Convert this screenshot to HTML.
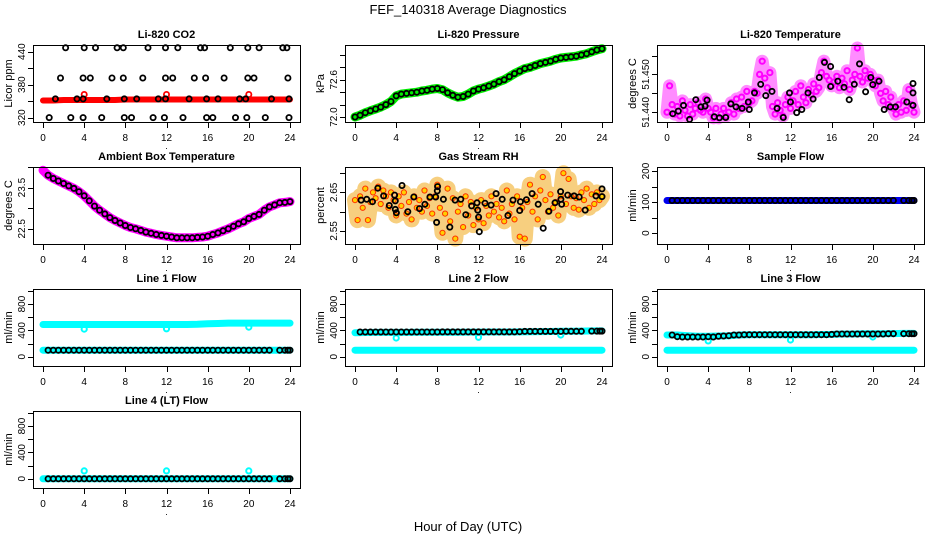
<!DOCTYPE html>
<html><head><meta charset="utf-8"><title>FEF_140318 Average Diagnostics</title>
<style>
html,body{margin:0;padding:0;background:#fff;}
svg{display:block;font-family:"Liberation Sans",Arial,sans-serif;}
</style></head>
<body>
<svg id="chart" width="936" height="540" viewBox="0 0 936 540" xmlns="http://www.w3.org/2000/svg">
<rect x="0" y="0" width="936" height="540" fill="#fff"/>
<text x="468" y="14" font-size="13" text-anchor="middle">FEF_140318  Average Diagnostics</text>
<text x="468" y="531" font-size="13" text-anchor="middle">Hour of Day (UTC)</text>
</svg>
<script>
// ---- shared x data ----
const xTicks = [0,4,8,12,16,20,24];
const hours25 = [0,1,2,3,4,5,6,7,8,9,10,11,12,13,14,15,16,17,18,19,20,21,22,23,24];
const halfHours = [0,0.5,1,1.5,2,2.5,3,3.5,4,4.5,5,5.5,6,6.5,7,7.5,8,8.5,9,9.5,10,10.5,11,11.5,12,12.5,13,13.5,14,14.5,15,15.5,16,16.5,17,17.5,18,18.5,19,19.5,20,20.5,21,21.5,22,22.5,23,23.5,24];
const blackHours = [0.5,1,1.5,2,2.5,3,3.5,4,4.5,5,5.5,6,6.5,7,7.5,8,8.5,9,9.5,10,10.5,11,11.5,12,12.5,13,13.5,14,14.5,15,15.5,16,16.5,17,17.5,18,18.5,19,19.5,20,20.5,21,21.5,22,23,23.5,23.8,24];
const quarterHours = [0,0.25,0.5,0.75,1,1.25,1.5,1.75,2,2.25,2.5,2.75,3,3.25,3.5,3.75,4,4.25,4.5,4.75,5,5.25,5.5,5.75,6,6.25,6.5,6.75,7,7.25,7.5,7.75,8,8.25,8.5,8.75,9,9.25,9.5,9.75,10,10.25,10.5,10.75,11,11.25,11.5,11.75,12,12.25,12.5,12.75,13,13.25,13.5,13.75,14,14.25,14.5,14.75,15,15.25,15.5,15.75,16,16.25,16.5,16.75,17,17.25,17.5,17.75,18,18.25,18.5,18.75,19,19.25,19.5,19.75,20,20.25,20.5,20.75,21,21.25,21.5,21.75,22,22.25,22.5,22.75,23,23.25,23.5,23.75,24];
const spikeHours = [4,12,20];

// ---- CO2 ----
const co2Red = [351,351,352,352,352,352,352,352,353,353,353,353,353,353,353,353,353,353,353,353,353,353,353,353,353];
const co2Spikes = [362,362,362];
const co2Hi_x = [2.2,4.0,5.1,7.2,7.8,10.2,11.9,13.1,15.3,15.7,18.2,19.9,21.0,23.3,23.7];
const co2Hi_y = [447,447,447,447,447,447,447,447,447,447,447,447,447,447,447];
const co2Mid_x = [1.7,3.9,4.6,6.7,7.8,9.7,11.9,12.6,14.7,15.8,17.6,19.9,20.5,23.8];
const co2Mid_y = [392,392,392,392,392,392,392,392,392,392,392,392,392,392];
const co2Base_x = [1.2,3.3,3.9,6.2,7.9,9.1,11.2,11.9,14.2,15.9,17.0,19.1,19.7,22.2,23.9];
const co2Base_y = [354,354,354,354,354,354,354,354,354,354,354,354,354,354,354];
const co2Low_x = [0.6,2.7,3.9,5.7,7.9,8.6,10.7,11.8,13.6,15.9,16.5,18.7,19.8,21.6,23.9];
const co2Low_y = [320,320,320,320,320,320,320,320,320,320,320,320,320,320,320];

// ---- Pressure ----
const pressure = [72.00,72.03,72.07,72.10,72.13,72.16,72.20,72.25,72.34,72.37,72.38,72.39,72.40,72.42,72.43,72.45,72.46,72.44,72.39,72.35,72.32,72.33,72.37,72.42,72.45,72.47,72.50,72.53,72.57,72.60,72.65,72.70,72.74,72.78,72.80,72.83,72.86,72.88,72.90,72.93,72.95,72.96,72.97,72.98,73.00,73.02,73.05,73.08,73.10];

// ---- Li-820 temperature ----
const tempCloud = [51.4400,51.4470,51.4420,51.4395,51.4415,51.4390,51.4430,51.4405,51.4390,
51.4420,51.4395,51.4410,51.4425,51.4405,51.4400,51.4435,51.4410,
51.4400,51.4385,51.4410,51.4385,51.4395,51.4410,51.4390,51.4400,
51.4425,51.4395,51.4435,51.4410,51.4440,51.4415,51.4455,51.4425,
51.4430,51.4455,51.4450,51.4500,51.4535,51.4490,51.4465,51.4505,
51.4415,51.4395,51.4425,51.4405,51.4390,51.4420,51.4440,51.4410,
51.4430,51.4455,51.4420,51.4470,51.4440,51.4425,51.4460,51.4445,
51.4475,51.4455,51.4465,51.4505,51.4535,51.4495,51.4485,51.4470,
51.4480,51.4495,51.4465,51.4490,51.4475,51.4510,51.4460,51.4485,
51.4500,51.4570,51.4495,51.4480,51.4510,51.4490,51.4500,51.4485,
51.4470,51.4485,51.4450,51.4430,51.4455,51.4420,51.4440,51.4410,
51.4395,51.4420,51.4400,51.4430,51.4405,51.4460,51.4420,51.4400];
const tempBlack_x = [0.55,1.1,1.6,2.2,2.8,3.3,3.7,3.9,4.6,5.1,5.7,6.2,6.7,7.3,7.9,8.0,8.5,9.1,9.6,10.2,10.7,11.3,11.9,12.0,12.6,13.1,13.7,14.2,14.8,15.3,15.9,15.9,16.6,17.2,17.7,18.2,18.7,19.3,19.8,20.0,20.6,21.1,21.7,22.2,23.3,23.9,23.9,23.9];
const tempBlack_y = [51.4396,51.4403,51.4418,51.4381,51.4433,51.4414,51.4416,51.4432,51.4388,51.4385,51.4386,51.4422,51.4414,51.4410,51.4427,51.4407,51.4451,51.4474,51.4444,51.4455,51.4410,51.4386,51.4451,51.4427,51.4399,51.4407,51.4451,51.4435,51.4492,51.4532,51.4521,51.4468,51.4482,51.4466,51.4433,51.4474,51.4528,51.4454,51.4492,51.4473,51.4482,51.4407,51.4414,51.4414,51.4427,51.4476,51.4451,51.4418];

// ---- Ambient box temperature ----
const ambient = [23.92,23.80,23.72,23.66,23.60,23.54,23.48,23.40,23.30,23.18,23.05,22.95,22.86,22.77,22.70,22.64,22.58,22.53,22.50,22.46,22.42,22.39,22.36,22.34,22.32,22.30,22.28,22.28,22.28,22.28,22.29,22.30,22.32,22.36,22.40,22.45,22.50,22.56,22.62,22.67,22.75,22.80,22.85,22.95,23.03,23.08,23.13,23.14,23.16];

// ---- Gas stream RH ----
const rhCloud = [2.630,2.578,2.640,2.610,2.660,2.578,2.625,2.650,2.635,
2.665,2.620,2.655,2.640,2.610,2.650,2.630,2.590,
2.640,2.615,2.650,2.595,2.625,2.580,2.640,2.610,
2.630,2.600,2.655,2.615,2.635,2.595,2.640,2.670,
2.610,2.545,2.595,2.660,2.575,2.635,2.530,2.600,
2.620,2.560,2.640,2.590,2.625,2.565,2.610,2.580,
2.630,2.570,2.615,2.590,2.640,2.600,2.620,2.585,
2.610,2.575,2.655,2.595,2.620,2.580,2.640,2.535,
2.610,2.530,2.625,2.670,2.600,2.640,2.580,2.655,
2.690,2.630,2.600,2.645,2.610,2.625,2.590,2.640,
2.700,2.620,2.685,2.640,2.610,2.635,2.605,2.650,
2.630,2.660,2.610,2.645,2.620,2.650,2.630,2.640];
const rhBlack_x = [0.59,1.14,1.70,2.22,2.78,3.33,3.85,3.92,3.92,4.02,4.57,5.13,5.71,6.27,6.79,7.28,7.84,7.93,8.0,8.03,8.59,9.21,9.73,10.28,10.77,11.33,11.85,11.92,12.01,12.08,12.63,13.22,13.71,14.30,14.86,15.35,16.0,16.07,16.65,17.21,17.80,18.29,18.84,19.43,19.98,20.01,20.08,20.67,21.29,21.78,22.37,23.41,24.0,24.0];
const rhBlack_y = [2.630,2.632,2.626,2.661,2.641,2.616,2.643,2.628,2.606,2.597,2.668,2.600,2.638,2.608,2.619,2.638,2.638,2.572,2.654,2.665,2.632,2.560,2.630,2.632,2.592,2.615,2.623,2.604,2.586,2.548,2.622,2.617,2.647,2.632,2.590,2.630,2.603,2.626,2.631,2.647,2.619,2.557,2.601,2.623,2.652,2.632,2.619,2.643,2.641,2.638,2.604,2.641,2.659,2.639];

// ---- Sample flow ----
const sampleBlue = [105,105,105,105,105,105,105,105,105,105,105,105,105,105,105,105,105,105,105,105,105,105,105,105,105];
const sampleBlack = [105,105,105,105,105,105,105,105,105,105,105,105,105,105,105,105,105,105,105,105,105,105,105,105,105,105,105,105,105,105,105,105,105,105,105,105,105,105,105,105,105,105,105,105,105,105,105,105];

// ---- Line flows ----
const line1High = [490,490,490,490,490,490,490,490,490,490,490,490,490,490,490,492,500,505,510,510,510,510,510,510,510];
const line1Low = [100,100,100,100,100,100,100,100,100,100,100,100,100,100,100,100,100,100,100,100,100,100,100,100,100];
const line1Dips = [420,425,450];
const line1Black = [100,100,100,100,100,100,100,100,100,100,100,100,100,100,100,100,100,100,100,100,100,100,100,100,100,100,100,100,100,100,100,100,100,100,100,100,100,100,100,100,100,100,100,100,100,100,100,100];

const line2High = [365,368,370,370,370,370,372,372,372,372,372,374,374,375,375,376,378,380,382,384,386,388,390,392,392];
const line2Low = [100,100,100,100,100,100,100,100,100,100,100,100,100,100,100,100,100,100,100,100,100,100,100,100,100];
const line2Dips = [285,295,330];
const line2Black = [375,375,375,375,375,375,375,375,375,375,375,375,375,375,375,375,378,378,378,378,378,378,378,378,378,378,378,378,378,378,378,380,385,385,385,385,385,385,385,385,387,387,387,387,390,390,390,390];

const line3High = [330,330,320,310,310,315,320,330,335,335,335,335,335,335,335,338,340,345,345,348,350,350,352,355,355];
const line3Low = [100,100,100,100,100,100,100,100,100,100,100,100,100,100,100,100,100,100,100,100,100,100,100,100,100];
const line3Dips = [240,255,300];
const line3Black = [330,305,300,300,300,300,300,305,300,310,315,320,330,330,335,335,335,335,335,335,335,335,335,335,335,335,335,335,335,335,335,340,345,345,345,345,345,345,345,345,345,345,350,350,350,350,350,350];

const line4Cyan = [0,0,0,0,0,0,0,0,0,0,0,0,0,0,0,0,0,0,0,0,0,0,0,0,0];
const line4Spikes = [120,120,120];
const line4Black = [0,0,0,0,0,0,0,0,0,0,0,0,0,0,0,0,0,0,0,0,0,0,0,0,0,0,0,0,0,0,0,0,0,0,0,0,0,0,0,0,0,0,0,0,0,0,0,0];

const flowTicks = [0,200,400,600,800,1000];
const flowLabels = [0,400,800];

// ---- drawing ----
const NS = 'http://www.w3.org/2000/svg';
const svg = document.getElementById('chart');
function el(tag, attrs, parent){
  const e = document.createElementNS(NS, tag);
  for (const k in attrs) e.setAttribute(k, attrs[k]);
  (parent || svg).appendChild(e);
  return e;
}
const colLeft = [33,345,657], rowTop = [45,167,289,411], PW = 267, PH = 77;

function panel(cfg){
  const x0 = colLeft[cfg.col], y0 = rowTop[cfg.row];
  const g = el('g', {});
  
  
  const sx = h => x0 + 10 + h / 24 * 247;
  const sy = v => y0 + PH - (v - cfg.ylim[0]) / (cfg.ylim[1] - cfg.ylim[0]) * PH;
  const title = el('text', {x: x0 + PW/2, y: y0 - 7, 'font-size': 11, 'font-weight': 'bold', 'text-anchor': 'middle'}, g);
  title.textContent = cfg.title;
  
  
  const ylab = el('text', {x: 0, y: 0, 'font-size': 11, 'text-anchor': 'middle', transform: 'translate(' + (x0 - 21) + ',' + (y0 + PH/2) + ') rotate(-90)'}, g);
  ylab.textContent = cfg.ylab;
  
  
  const plot = el('g', {}, g);
  
  
  const ax = el('g', {stroke: '#000', 'stroke-width': 1, fill: 'none'}, g);
  
  
  const box = el('rect', {x: x0 + 0.5, y: y0 + 0.5, width: PW, height: PH}, ax);
  
  
  cfg.ticks.forEach(t => {
    const ty = Math.round(sy(t)) + 0.5;
    const tk = el('line', {x1: x0 - 5, x2: x0, y1: ty, y2: ty}, ax);
    
    
  });
  cfg.labels.forEach((t, i) => {
    const ty = sy(t);
    const lb = el('text', {x: 0, y: 0, 'font-size': 10, 'text-anchor': 'middle', transform: 'translate(' + (x0 - 8) + ',' + ty + ') rotate(-90)'}, g);
    lb.textContent = cfg.labelText ? cfg.labelText[i] : String(t);
    
    
  });
  xTicks.forEach(t => {
    const tx = Math.round(sx(t)) + 0.5;
    const tk = el('line', {x1: tx, x2: tx, y1: y0 + PH, y2: y0 + PH + 6}, ax);
    
    
    const lb = el('text', {x: sx(t), y: y0 + PH + 19, 'font-size': 10, 'text-anchor': 'middle'}, g);
    lb.textContent = String(t);
    
    
  });
  const dot = el('text', {x: x0 + PW/2, y: y0 + PH + 27, 'font-size': 9, 'text-anchor': 'middle'}, g);
  dot.textContent = '.';
  
  
  return {plot, sx, sy};
}
function band(P, xs, ys, color, w, name){
  const pts = xs.map((x, i) => P.sx(x).toFixed(1) + ',' + P.sy(ys[i]).toFixed(1)).join(' ');
  const pl = el('polyline', {points: pts, fill: 'none', stroke: color, 'stroke-width': w, 'stroke-linecap': 'round', 'stroke-linejoin': 'round'}, P.plot);
  
  
}
function pts(P, xs, ys, stroke, name, fill, sw){
  const g = el('g', {fill: fill || 'none', stroke: stroke, 'stroke-width': sw || 1.8}, P.plot);
  
  
  xs.forEach((x, i) => {
    const c = el('circle', {cx: P.sx(x).toFixed(1), cy: P.sy(ys[i]).toFixed(1), r: 2.6}, g);
    
    
  });
}

// CO2
let P = panel({name: 'co2', col: 0, row: 0, title: 'Li-820 CO2', ylab: 'Licor ppm', ylim: [312, 452], ticks: [320,350,380,410,440], labels: [320,380,440]});
band(P, hours25, co2Red, '#ff0000', 6, 'co2-red-series');
pts(P, spikeHours, co2Spikes, '#ff0000', 'co2-red-spikes');
pts(P, co2Hi_x, co2Hi_y, '#000', 'co2-black-high');
pts(P, co2Mid_x, co2Mid_y, '#000', 'co2-black-mid');
pts(P, co2Base_x, co2Base_y, '#000', 'co2-black-base');
pts(P, co2Low_x, co2Low_y, '#000', 'co2-black-low');

// Pressure
P = panel({name: 'pressure', col: 1, row: 0, title: 'Li-820 Pressure', ylab: 'kPa', ylim: [71.92, 73.16], ticks: [72.0,72.2,72.4,72.6,72.8,73.0], labels: [72.0,72.6], labelText: ['72.0','72.6']});
band(P, halfHours, pressure, '#00ee00', 9, 'pressure-green-series');
pts(P, halfHours, pressure, '#000', 'pressure-black-series');

// Li-820 temperature
P = panel({name: 'li820-temp', col: 2, row: 0, title: 'Li-820 Temperature', ylab: 'degrees C', ylim: [51.4374, 51.4578], ticks: [51.440,51.445,51.450,51.455], labels: [51.440,51.450], labelText: ['51.440','51.450']});
band(P, quarterHours, tempCloud, 'rgba(255,0,255,0.45)', 13, 'li820-temp-magenta-band');
pts(P, quarterHours, tempCloud, '#ff00ff', 'li820-temp-magenta-series', 'none', 2);
pts(P, tempBlack_x, tempBlack_y, '#000', 'li820-temp-black-series');

// Ambient
P = panel({name: 'ambient-temp', col: 0, row: 1, title: 'Ambient Box Temperature', ylab: 'degrees C', ylim: [22.13, 24.0], ticks: [22.5,23.0,23.5,24.0], labels: [22.5,23.5], labelText: ['22.5','23.5']});
band(P, halfHours, ambient, '#ff00ff', 9, 'ambient-magenta-series');
pts(P, halfHours.slice(1), ambient.slice(1), '#000', 'ambient-black-series');

// RH
P = panel({name: 'rh', col: 1, row: 1, title: 'Gas Stream RH', ylab: 'percent', ylim: [2.516, 2.716], ticks: [2.55,2.60,2.65,2.70], labels: [2.55,2.65], labelText: ['2.55','2.65']});
band(P, quarterHours, rhCloud, 'rgba(240,160,0,0.5)', 16, 'rh-orange-band');
pts(P, quarterHours, rhCloud, '#ff3000', 'rh-orange-series', '#ffd000', 1);
pts(P, rhBlack_x, rhBlack_y, '#000', 'rh-black-series');

// Sample flow
P = panel({name: 'sample-flow', col: 2, row: 1, title: 'Sample Flow', ylab: 'ml/min', ylim: [-35, 213], ticks: [0,50,100,150,200], labels: [0,100,200]});
band(P, hours25, sampleBlue, '#0000ee', 7, 'sample-blue-series');
pts(P, blackHours, sampleBlack, '#000', 'sample-black-series');

// Line flows
function flowPanel(name, col, row, title, high, low, dips, black){
  const Q = panel({name: name, col: col, row: row, title: title, ylab: 'ml/min', ylim: [-140, 1028], ticks: flowTicks, labels: flowLabels});
  if (high) band(Q, hours25, high, '#00ffff', 7, name + '-cyan-high-series');
  band(Q, hours25, low, '#00ffff', 7, name + '-cyan-low-series');
  pts(Q, spikeHours, dips, '#00ffff', name + '-cyan-excursions', 'none', 2);
  pts(Q, blackHours, black, '#000', name + '-black-series');
}
flowPanel('line1-flow', 0, 2, 'Line 1 Flow', line1High, line1Low, line1Dips, line1Black);
flowPanel('line2-flow', 1, 2, 'Line 2 Flow', line2High, line2Low, line2Dips, line2Black);
flowPanel('line3-flow', 2, 2, 'Line 3 Flow', line3High, line3Low, line3Dips, line3Black);
flowPanel('line4-flow', 0, 3, 'Line 4 (LT) Flow', null, line4Cyan, line4Spikes, line4Black);
</script>
</body></html>
